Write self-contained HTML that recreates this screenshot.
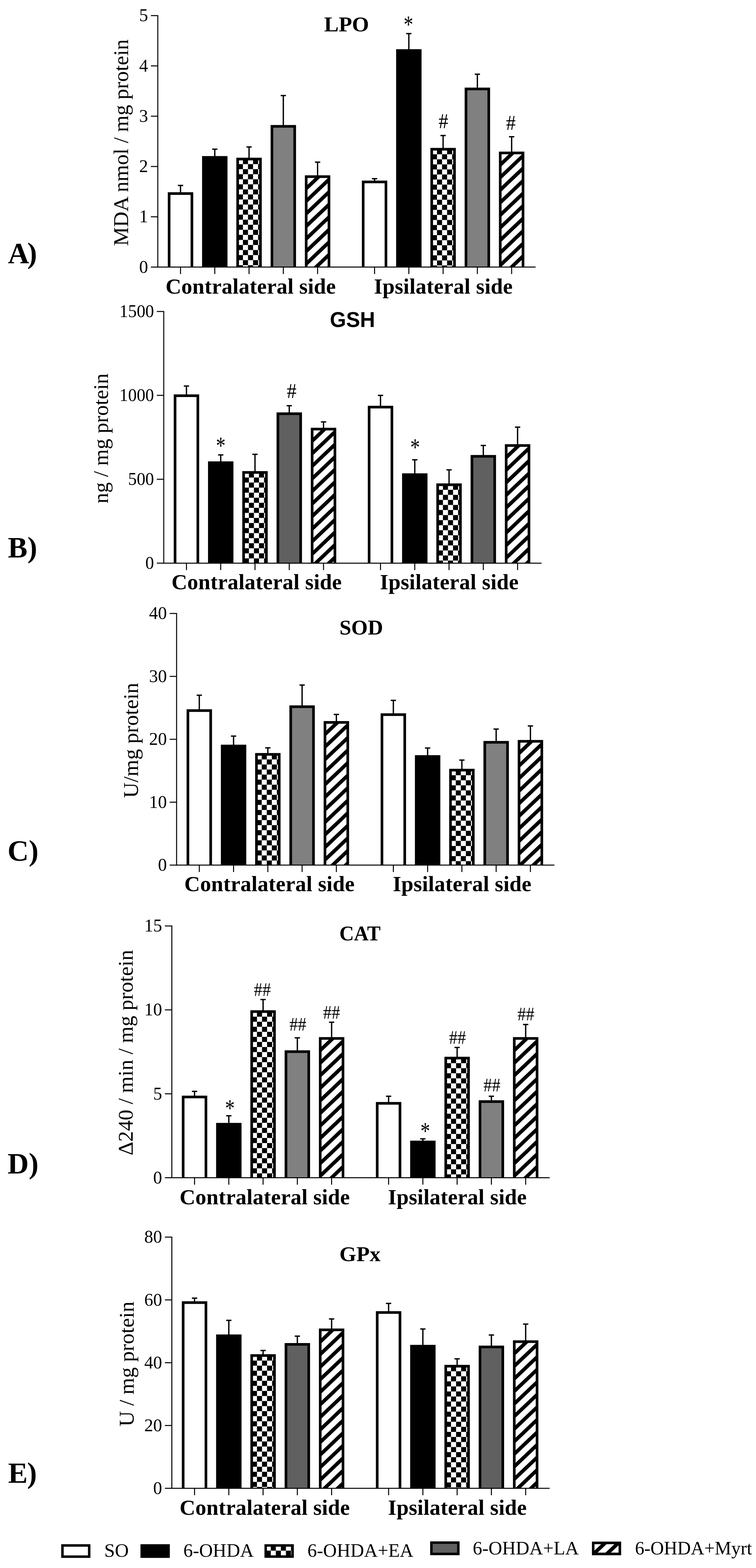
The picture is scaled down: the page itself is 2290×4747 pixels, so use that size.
<!DOCTYPE html><html><head><meta charset="utf-8"><title>Figure</title><style>html,body{margin:0;padding:0;background:#fff;}svg{display:block;}</style></head><body>
<svg width="2290" height="4747" viewBox="0 0 2290 4747">
<defs><pattern id="chkA2" patternUnits="userSpaceOnUse" width="30.6" height="30.6" x="735.9" y="496.85"><rect width="30.6" height="30.6" fill="#fff"/><rect x="15.3" y="0" width="15.3" height="15.3" fill="#000"/><rect x="0" y="15.3" width="15.3" height="15.3" fill="#000"/></pattern><clipPath id="clipA4"><rect x="927.5" y="534.7" width="69" height="273.9"/></clipPath><pattern id="chkA7" patternUnits="userSpaceOnUse" width="30.6" height="30.6" x="1323.7" y="467.05"><rect width="30.6" height="30.6" fill="#fff"/><rect x="15.3" y="0" width="15.3" height="15.3" fill="#000"/><rect x="0" y="15.3" width="15.3" height="15.3" fill="#000"/></pattern><clipPath id="clipA9"><rect x="1515.3" y="463" width="69" height="345.6"/></clipPath><pattern id="chkB2" patternUnits="userSpaceOnUse" width="30.6" height="30.6" x="753.9" y="1445.65"><rect width="30.6" height="30.6" fill="#fff"/><rect x="15.3" y="0" width="15.3" height="15.3" fill="#000"/><rect x="0" y="15.3" width="15.3" height="15.3" fill="#000"/></pattern><clipPath id="clipB4"><rect x="945.5" y="1299" width="69" height="405.9"/></clipPath><pattern id="chkB7" patternUnits="userSpaceOnUse" width="30.6" height="30.6" x="1341.7" y="1482.85"><rect width="30.6" height="30.6" fill="#fff"/><rect x="15.3" y="0" width="15.3" height="15.3" fill="#000"/><rect x="0" y="15.3" width="15.3" height="15.3" fill="#000"/></pattern><clipPath id="clipB9"><rect x="1533.3" y="1348.7" width="69" height="356.2"/></clipPath><pattern id="chkC2" patternUnits="userSpaceOnUse" width="30.6" height="30.6" x="792.8" y="2299.15"><rect width="30.6" height="30.6" fill="#fff"/><rect x="15.3" y="0" width="15.3" height="15.3" fill="#000"/><rect x="0" y="15.3" width="15.3" height="15.3" fill="#000"/></pattern><clipPath id="clipC4"><rect x="984.4" y="2186.9" width="69" height="432.1"/></clipPath><pattern id="chkC7" patternUnits="userSpaceOnUse" width="30.6" height="30.6" x="1380.6" y="2346.95"><rect width="30.6" height="30.6" fill="#fff"/><rect x="15.3" y="0" width="15.3" height="15.3" fill="#000"/><rect x="0" y="15.3" width="15.3" height="15.3" fill="#000"/></pattern><clipPath id="clipC9"><rect x="1572.2" y="2244.2" width="69" height="374.8"/></clipPath><pattern id="chkD2" patternUnits="userSpaceOnUse" width="30.6" height="30.6" x="778.4" y="3077.95"><rect width="30.6" height="30.6" fill="#fff"/><rect x="15.3" y="0" width="15.3" height="15.3" fill="#000"/><rect x="0" y="15.3" width="15.3" height="15.3" fill="#000"/></pattern><clipPath id="clipD4"><rect x="970" y="3143.8" width="69" height="421.7"/></clipPath><pattern id="chkD7" patternUnits="userSpaceOnUse" width="30.6" height="30.6" x="1366.2" y="3218.65"><rect width="30.6" height="30.6" fill="#fff"/><rect x="15.3" y="0" width="15.3" height="15.3" fill="#000"/><rect x="0" y="15.3" width="15.3" height="15.3" fill="#000"/></pattern><clipPath id="clipD9"><rect x="1557.8" y="3143.8" width="69" height="421.7"/></clipPath><pattern id="chkE2" patternUnits="userSpaceOnUse" width="30.6" height="30.6" x="778.4" y="4119.15"><rect width="30.6" height="30.6" fill="#fff"/><rect x="15.3" y="0" width="15.3" height="15.3" fill="#000"/><rect x="0" y="15.3" width="15.3" height="15.3" fill="#000"/></pattern><clipPath id="clipE4"><rect x="970" y="4026" width="69" height="479.7"/></clipPath><pattern id="chkE7" patternUnits="userSpaceOnUse" width="30.6" height="30.6" x="1366.2" y="4151.35"><rect width="30.6" height="30.6" fill="#fff"/><rect x="15.3" y="0" width="15.3" height="15.3" fill="#000"/><rect x="0" y="15.3" width="15.3" height="15.3" fill="#000"/></pattern><clipPath id="clipE9"><rect x="1557.8" y="4061.7" width="69" height="444"/></clipPath><pattern id="chkL" patternUnits="userSpaceOnUse" width="30.6" height="30.6" x="820.2" y="4694.5"><rect width="30.6" height="30.6" fill="#fff"/><rect x="15.3" y="0" width="15.3" height="15.3" fill="#000"/><rect x="0" y="15.3" width="15.3" height="15.3" fill="#000"/></pattern><clipPath id="clipL"><rect x="1796.5" y="4670.7" width="81.3" height="34"/></clipPath></defs>
<rect width="100%" height="100%" fill="#fff"/>
<line x1="546.8" y1="561.4" x2="546.8" y2="584.1" stroke="#000" stroke-width="4"/>
<line x1="538.8" y1="561.4" x2="554.8" y2="561.4" stroke="#000" stroke-width="4"/>
<rect x="512.3" y="586.1" width="69" height="222.5" fill="#fff"/>
<path d="M512.3 808.6V586.1H581.3V808.6" fill="none" stroke="#000" stroke-width="8.0"/>
<line x1="650.6" y1="451.6" x2="650.6" y2="474.5" stroke="#000" stroke-width="4"/>
<line x1="642.6" y1="451.6" x2="658.6" y2="451.6" stroke="#000" stroke-width="4"/>
<rect x="616.1" y="476.5" width="69" height="332.1" fill="#000"/>
<path d="M616.1 808.6V476.5H685.1V808.6" fill="none" stroke="#000" stroke-width="8.0"/>
<line x1="754.4" y1="444.9" x2="754.4" y2="479.5" stroke="#000" stroke-width="4"/>
<line x1="746.4" y1="444.9" x2="762.4" y2="444.9" stroke="#000" stroke-width="4"/>
<rect x="719.9" y="481.5" width="69" height="327.1" fill="url(#chkA2)"/>
<path d="M719.9 808.6V481.5H788.9V808.6" fill="none" stroke="#000" stroke-width="8.0"/>
<line x1="858.2" y1="289.3" x2="858.2" y2="380.4" stroke="#000" stroke-width="4"/>
<line x1="850.2" y1="289.3" x2="866.2" y2="289.3" stroke="#000" stroke-width="4"/>
<rect x="823.7" y="382.4" width="69" height="426.2" fill="#808080"/>
<path d="M823.7 808.6V382.4H892.7V808.6" fill="none" stroke="#000" stroke-width="8.0"/>
<line x1="962" y1="490.9" x2="962" y2="532.7" stroke="#000" stroke-width="4"/>
<line x1="954" y1="490.9" x2="970" y2="490.9" stroke="#000" stroke-width="4"/>
<rect x="927.5" y="534.7" width="69" height="273.9" fill="#fff"/>
<path clip-path="url(#clipA4)" d="M917.5 542.35L1006.5 457.8M917.5 580.35L1006.5 495.8M917.5 618.35L1006.5 533.8M917.5 656.35L1006.5 571.8M917.5 694.35L1006.5 609.8M917.5 732.35L1006.5 647.8M917.5 770.35L1006.5 685.8M917.5 808.35L1006.5 723.8M917.5 846.35L1006.5 761.8M917.5 884.35L1006.5 799.8" stroke="#000" stroke-width="11.09" fill="none"/>
<path d="M927.5 808.6V534.7H996.5V808.6" fill="none" stroke="#000" stroke-width="8.0"/>
<line x1="1134.6" y1="541" x2="1134.6" y2="548.8" stroke="#000" stroke-width="4"/>
<line x1="1126.6" y1="541" x2="1142.6" y2="541" stroke="#000" stroke-width="4"/>
<rect x="1100.1" y="550.8" width="69" height="257.8" fill="#fff"/>
<path d="M1100.1 808.6V550.8H1169.1V808.6" fill="none" stroke="#000" stroke-width="8.0"/>
<line x1="1238.4" y1="101.7" x2="1238.4" y2="151" stroke="#000" stroke-width="4"/>
<line x1="1230.4" y1="101.7" x2="1246.4" y2="101.7" stroke="#000" stroke-width="4"/>
<rect x="1203.9" y="153" width="69" height="655.6" fill="#000"/>
<path d="M1203.9 808.6V153H1272.9V808.6" fill="none" stroke="#000" stroke-width="8.0"/>
<line x1="1342.2" y1="410.3" x2="1342.2" y2="449.7" stroke="#000" stroke-width="4"/>
<line x1="1334.2" y1="410.3" x2="1350.2" y2="410.3" stroke="#000" stroke-width="4"/>
<rect x="1307.7" y="451.7" width="69" height="356.9" fill="url(#chkA7)"/>
<path d="M1307.7 808.6V451.7H1376.7V808.6" fill="none" stroke="#000" stroke-width="8.0"/>
<line x1="1446" y1="224.7" x2="1446" y2="267.3" stroke="#000" stroke-width="4"/>
<line x1="1438" y1="224.7" x2="1454" y2="224.7" stroke="#000" stroke-width="4"/>
<rect x="1411.5" y="269.3" width="69" height="539.3" fill="#808080"/>
<path d="M1411.5 808.6V269.3H1480.5V808.6" fill="none" stroke="#000" stroke-width="8.0"/>
<line x1="1549.8" y1="414" x2="1549.8" y2="461" stroke="#000" stroke-width="4"/>
<line x1="1541.8" y1="414" x2="1557.8" y2="414" stroke="#000" stroke-width="4"/>
<rect x="1515.3" y="463" width="69" height="345.6" fill="#fff"/>
<path clip-path="url(#clipA9)" d="M1505.3 470.65L1594.3 386.1M1505.3 508.65L1594.3 424.1M1505.3 546.65L1594.3 462.1M1505.3 584.65L1594.3 500.1M1505.3 622.65L1594.3 538.1M1505.3 660.65L1594.3 576.1M1505.3 698.65L1594.3 614.1M1505.3 736.65L1594.3 652.1M1505.3 774.65L1594.3 690.1M1505.3 812.65L1594.3 728.1M1505.3 850.65L1594.3 766.1M1505.3 888.65L1594.3 804.1" stroke="#000" stroke-width="11.09" fill="none"/>
<path d="M1515.3 808.6V463H1584.3V808.6" fill="none" stroke="#000" stroke-width="8.0"/>
<path d="M457 47.3H478V808.6H1622.5" fill="none" stroke="#000" stroke-width="3"/>
<line x1="457" y1="808.6" x2="478" y2="808.6" stroke="#000" stroke-width="3"/>
<text x="448.5" y="825.7" font-family='"Liberation Serif", "Times New Roman", serif' font-size="54" text-anchor="end">0</text>
<line x1="457" y1="656.34" x2="478" y2="656.34" stroke="#000" stroke-width="3"/>
<text x="448.5" y="673.44" font-family='"Liberation Serif", "Times New Roman", serif' font-size="54" text-anchor="end">1</text>
<line x1="457" y1="504.08" x2="478" y2="504.08" stroke="#000" stroke-width="3"/>
<text x="448.5" y="521.18" font-family='"Liberation Serif", "Times New Roman", serif' font-size="54" text-anchor="end">2</text>
<line x1="457" y1="351.82" x2="478" y2="351.82" stroke="#000" stroke-width="3"/>
<text x="448.5" y="368.92" font-family='"Liberation Serif", "Times New Roman", serif' font-size="54" text-anchor="end">3</text>
<line x1="457" y1="199.56" x2="478" y2="199.56" stroke="#000" stroke-width="3"/>
<text x="448.5" y="216.66" font-family='"Liberation Serif", "Times New Roman", serif' font-size="54" text-anchor="end">4</text>
<text x="448.5" y="64.4" font-family='"Liberation Serif", "Times New Roman", serif' font-size="54" text-anchor="end">5</text>
<line x1="546.8" y1="808.6" x2="546.8" y2="829.6" stroke="#000" stroke-width="3"/>
<line x1="650.6" y1="808.6" x2="650.6" y2="829.6" stroke="#000" stroke-width="3"/>
<line x1="754.4" y1="808.6" x2="754.4" y2="829.6" stroke="#000" stroke-width="3"/>
<line x1="858.2" y1="808.6" x2="858.2" y2="829.6" stroke="#000" stroke-width="3"/>
<line x1="962" y1="808.6" x2="962" y2="829.6" stroke="#000" stroke-width="3"/>
<line x1="1134.6" y1="808.6" x2="1134.6" y2="829.6" stroke="#000" stroke-width="3"/>
<line x1="1238.4" y1="808.6" x2="1238.4" y2="829.6" stroke="#000" stroke-width="3"/>
<line x1="1342.2" y1="808.6" x2="1342.2" y2="829.6" stroke="#000" stroke-width="3"/>
<line x1="1446" y1="808.6" x2="1446" y2="829.6" stroke="#000" stroke-width="3"/>
<line x1="1549.8" y1="808.6" x2="1549.8" y2="829.6" stroke="#000" stroke-width="3"/>
<text x="501.4" y="888.9" font-family='"Liberation Serif", "Times New Roman", serif' font-weight="bold" font-size="66" letter-spacing="0.25">Contralateral side</text>
<text x="1132.8" y="888.9" font-family='"Liberation Serif", "Times New Roman", serif' font-weight="bold" font-size="66" letter-spacing="0.25">Ipsilateral side</text>
<text transform="translate(1049.8,95.3) scale(1.0347,1)" font-family='"Liberation Serif", "Times New Roman", serif' font-weight="bold" font-size="64" text-anchor="middle">LPO</text>
<text transform="translate(387.5,431.7) rotate(-90) scale(1.0053,1)" font-family='"Liberation Serif", "Times New Roman", serif' font-size="64" text-anchor="middle">MDA nmol / mg protein</text>
<text y="795.6" font-family='"Liberation Serif", "Times New Roman", serif' font-weight="bold" font-size="89"><tspan x="24">A</tspan><tspan x="82.5">)</tspan></text>
<text transform="translate(1237.1,64.4) scale(0.98,1.25)" x="0" y="27.55" font-family='"Liberation Serif", "Times New Roman", serif' font-size="60" text-anchor="middle">*</text>
<text transform="translate(1343.1,367.8) scale(0.98,1.05)" x="0" y="19.5" font-family='"Liberation Serif", "Times New Roman", serif' font-size="60" text-anchor="middle">#</text>
<text transform="translate(1547.5,372.9) scale(0.98,1.05)" x="0" y="19.5" font-family='"Liberation Serif", "Times New Roman", serif' font-size="60" text-anchor="middle">#</text>
<line x1="564.8" y1="1168.7" x2="564.8" y2="1195.9" stroke="#000" stroke-width="4"/>
<line x1="556.8" y1="1168.7" x2="572.8" y2="1168.7" stroke="#000" stroke-width="4"/>
<rect x="530.3" y="1197.9" width="69" height="507" fill="#fff"/>
<path d="M530.3 1704.9V1197.9H599.3V1704.9" fill="none" stroke="#000" stroke-width="8.0"/>
<line x1="668.6" y1="1377.2" x2="668.6" y2="1398.7" stroke="#000" stroke-width="4"/>
<line x1="660.6" y1="1377.2" x2="676.6" y2="1377.2" stroke="#000" stroke-width="4"/>
<rect x="634.1" y="1400.7" width="69" height="304.2" fill="#000"/>
<path d="M634.1 1704.9V1400.7H703.1V1704.9" fill="none" stroke="#000" stroke-width="8.0"/>
<line x1="772.4" y1="1375.4" x2="772.4" y2="1428.3" stroke="#000" stroke-width="4"/>
<line x1="764.4" y1="1375.4" x2="780.4" y2="1375.4" stroke="#000" stroke-width="4"/>
<rect x="737.9" y="1430.3" width="69" height="274.6" fill="url(#chkB2)"/>
<path d="M737.9 1704.9V1430.3H806.9V1704.9" fill="none" stroke="#000" stroke-width="8.0"/>
<line x1="876.2" y1="1228.2" x2="876.2" y2="1250.6" stroke="#000" stroke-width="4"/>
<line x1="868.2" y1="1228.2" x2="884.2" y2="1228.2" stroke="#000" stroke-width="4"/>
<rect x="841.7" y="1252.6" width="69" height="452.3" fill="#606060"/>
<path d="M841.7 1704.9V1252.6H910.7V1704.9" fill="none" stroke="#000" stroke-width="8.0"/>
<line x1="980" y1="1277.3" x2="980" y2="1297" stroke="#000" stroke-width="4"/>
<line x1="972" y1="1277.3" x2="988" y2="1277.3" stroke="#000" stroke-width="4"/>
<rect x="945.5" y="1299" width="69" height="405.9" fill="#fff"/>
<path clip-path="url(#clipB4)" d="M935.5 1306.65L1024.5 1222.1M935.5 1344.65L1024.5 1260.1M935.5 1382.65L1024.5 1298.1M935.5 1420.65L1024.5 1336.1M935.5 1458.65L1024.5 1374.1M935.5 1496.65L1024.5 1412.1M935.5 1534.65L1024.5 1450.1M935.5 1572.65L1024.5 1488.1M935.5 1610.65L1024.5 1526.1M935.5 1648.65L1024.5 1564.1M935.5 1686.65L1024.5 1602.1M935.5 1724.65L1024.5 1640.1M935.5 1762.65L1024.5 1678.1M935.5 1800.65L1024.5 1716.1" stroke="#000" stroke-width="11.09" fill="none"/>
<path d="M945.5 1704.9V1299H1014.5V1704.9" fill="none" stroke="#000" stroke-width="8.0"/>
<line x1="1152.6" y1="1197" x2="1152.6" y2="1230.4" stroke="#000" stroke-width="4"/>
<line x1="1144.6" y1="1197" x2="1160.6" y2="1197" stroke="#000" stroke-width="4"/>
<rect x="1118.1" y="1232.4" width="69" height="472.5" fill="#fff"/>
<path d="M1118.1 1704.9V1232.4H1187.1V1704.9" fill="none" stroke="#000" stroke-width="8.0"/>
<line x1="1256.4" y1="1392" x2="1256.4" y2="1435" stroke="#000" stroke-width="4"/>
<line x1="1248.4" y1="1392" x2="1264.4" y2="1392" stroke="#000" stroke-width="4"/>
<rect x="1221.9" y="1437" width="69" height="267.9" fill="#000"/>
<path d="M1221.9 1704.9V1437H1290.9V1704.9" fill="none" stroke="#000" stroke-width="8.0"/>
<line x1="1360.2" y1="1422.4" x2="1360.2" y2="1465.5" stroke="#000" stroke-width="4"/>
<line x1="1352.2" y1="1422.4" x2="1368.2" y2="1422.4" stroke="#000" stroke-width="4"/>
<rect x="1325.7" y="1467.5" width="69" height="237.4" fill="url(#chkB7)"/>
<path d="M1325.7 1704.9V1467.5H1394.7V1704.9" fill="none" stroke="#000" stroke-width="8.0"/>
<line x1="1464" y1="1348.6" x2="1464" y2="1379.6" stroke="#000" stroke-width="4"/>
<line x1="1456" y1="1348.6" x2="1472" y2="1348.6" stroke="#000" stroke-width="4"/>
<rect x="1429.5" y="1381.6" width="69" height="323.3" fill="#606060"/>
<path d="M1429.5 1704.9V1381.6H1498.5V1704.9" fill="none" stroke="#000" stroke-width="8.0"/>
<line x1="1567.8" y1="1293.1" x2="1567.8" y2="1346.7" stroke="#000" stroke-width="4"/>
<line x1="1559.8" y1="1293.1" x2="1575.8" y2="1293.1" stroke="#000" stroke-width="4"/>
<rect x="1533.3" y="1348.7" width="69" height="356.2" fill="#fff"/>
<path clip-path="url(#clipB9)" d="M1523.3 1356.35L1612.3 1271.8M1523.3 1394.35L1612.3 1309.8M1523.3 1432.35L1612.3 1347.8M1523.3 1470.35L1612.3 1385.8M1523.3 1508.35L1612.3 1423.8M1523.3 1546.35L1612.3 1461.8M1523.3 1584.35L1612.3 1499.8M1523.3 1622.35L1612.3 1537.8M1523.3 1660.35L1612.3 1575.8M1523.3 1698.35L1612.3 1613.8M1523.3 1736.35L1612.3 1651.8M1523.3 1774.35L1612.3 1689.8" stroke="#000" stroke-width="11.09" fill="none"/>
<path d="M1533.3 1704.9V1348.7H1602.3V1704.9" fill="none" stroke="#000" stroke-width="8.0"/>
<path d="M475 942.9H496V1704.9H1640.5" fill="none" stroke="#000" stroke-width="3"/>
<line x1="475" y1="1704.9" x2="496" y2="1704.9" stroke="#000" stroke-width="3"/>
<text transform="translate(466.5,1722) scale(0.97,1)" font-family='"Liberation Serif", "Times New Roman", serif' font-size="54" text-anchor="end">0</text>
<line x1="475" y1="1450.9" x2="496" y2="1450.9" stroke="#000" stroke-width="3"/>
<text transform="translate(466.5,1468) scale(0.97,1)" font-family='"Liberation Serif", "Times New Roman", serif' font-size="54" text-anchor="end">500</text>
<line x1="475" y1="1196.9" x2="496" y2="1196.9" stroke="#000" stroke-width="3"/>
<text transform="translate(466.5,1214) scale(0.97,1)" font-family='"Liberation Serif", "Times New Roman", serif' font-size="54" text-anchor="end">1000</text>
<text transform="translate(466.5,960) scale(0.97,1)" font-family='"Liberation Serif", "Times New Roman", serif' font-size="54" text-anchor="end">1500</text>
<line x1="564.8" y1="1704.9" x2="564.8" y2="1725.9" stroke="#000" stroke-width="3"/>
<line x1="668.6" y1="1704.9" x2="668.6" y2="1725.9" stroke="#000" stroke-width="3"/>
<line x1="772.4" y1="1704.9" x2="772.4" y2="1725.9" stroke="#000" stroke-width="3"/>
<line x1="876.2" y1="1704.9" x2="876.2" y2="1725.9" stroke="#000" stroke-width="3"/>
<line x1="980" y1="1704.9" x2="980" y2="1725.9" stroke="#000" stroke-width="3"/>
<line x1="1152.6" y1="1704.9" x2="1152.6" y2="1725.9" stroke="#000" stroke-width="3"/>
<line x1="1256.4" y1="1704.9" x2="1256.4" y2="1725.9" stroke="#000" stroke-width="3"/>
<line x1="1360.2" y1="1704.9" x2="1360.2" y2="1725.9" stroke="#000" stroke-width="3"/>
<line x1="1464" y1="1704.9" x2="1464" y2="1725.9" stroke="#000" stroke-width="3"/>
<line x1="1567.8" y1="1704.9" x2="1567.8" y2="1725.9" stroke="#000" stroke-width="3"/>
<text x="519.4" y="1783.7" font-family='"Liberation Serif", "Times New Roman", serif' font-weight="bold" font-size="66" letter-spacing="0.25">Contralateral side</text>
<text x="1150.8" y="1783.7" font-family='"Liberation Serif", "Times New Roman", serif' font-weight="bold" font-size="66" letter-spacing="0.25">Ipsilateral side</text>
<text transform="translate(1067.8,990.4) scale(0.9871,1)" font-family='"Liberation Sans", Arial, sans-serif' font-weight="bold" font-size="64" text-anchor="middle">GSH</text>
<text transform="translate(327.1,1327.3) rotate(-90) scale(1.0023,1)" font-family='"Liberation Serif", "Times New Roman", serif' font-size="64" text-anchor="middle">ng / mg protein</text>
<text y="1687" font-family='"Liberation Serif", "Times New Roman", serif' font-weight="bold" font-size="89"><tspan x="23.8">B</tspan><tspan x="82.9">)</tspan></text>
<text transform="translate(668.75,1340.05) scale(0.98,1.25)" x="0" y="27.55" font-family='"Liberation Serif", "Times New Roman", serif' font-size="60" text-anchor="middle">*</text>
<text transform="translate(883.5,1185) scale(0.98,1.05)" x="0" y="19.5" font-family='"Liberation Serif", "Times New Roman", serif' font-size="60" text-anchor="middle">#</text>
<text transform="translate(1257.4,1344.5) scale(0.98,1.25)" x="0" y="27.55" font-family='"Liberation Serif", "Times New Roman", serif' font-size="60" text-anchor="middle">*</text>
<line x1="603.7" y1="2104.7" x2="603.7" y2="2149.3" stroke="#000" stroke-width="4"/>
<line x1="595.7" y1="2104.7" x2="611.7" y2="2104.7" stroke="#000" stroke-width="4"/>
<rect x="569.2" y="2151.3" width="69" height="467.7" fill="#fff"/>
<path d="M569.2 2619V2151.3H638.2V2619" fill="none" stroke="#000" stroke-width="8.0"/>
<line x1="707.5" y1="2228.5" x2="707.5" y2="2256.6" stroke="#000" stroke-width="4"/>
<line x1="699.5" y1="2228.5" x2="715.5" y2="2228.5" stroke="#000" stroke-width="4"/>
<rect x="673" y="2258.6" width="69" height="360.4" fill="#000"/>
<path d="M673 2619V2258.6H742V2619" fill="none" stroke="#000" stroke-width="8.0"/>
<line x1="811.3" y1="2264.1" x2="811.3" y2="2281.8" stroke="#000" stroke-width="4"/>
<line x1="803.3" y1="2264.1" x2="819.3" y2="2264.1" stroke="#000" stroke-width="4"/>
<rect x="776.8" y="2283.8" width="69" height="335.2" fill="url(#chkC2)"/>
<path d="M776.8 2619V2283.8H845.8V2619" fill="none" stroke="#000" stroke-width="8.0"/>
<line x1="915.1" y1="2073.9" x2="915.1" y2="2137.6" stroke="#000" stroke-width="4"/>
<line x1="907.1" y1="2073.9" x2="923.1" y2="2073.9" stroke="#000" stroke-width="4"/>
<rect x="880.6" y="2139.6" width="69" height="479.4" fill="#808080"/>
<path d="M880.6 2619V2139.6H949.6V2619" fill="none" stroke="#000" stroke-width="8.0"/>
<line x1="1018.9" y1="2162.9" x2="1018.9" y2="2184.9" stroke="#000" stroke-width="4"/>
<line x1="1010.9" y1="2162.9" x2="1026.9" y2="2162.9" stroke="#000" stroke-width="4"/>
<rect x="984.4" y="2186.9" width="69" height="432.1" fill="#fff"/>
<path clip-path="url(#clipC4)" d="M974.4 2194.55L1063.4 2110M974.4 2232.55L1063.4 2148M974.4 2270.55L1063.4 2186M974.4 2308.55L1063.4 2224M974.4 2346.55L1063.4 2262M974.4 2384.55L1063.4 2300M974.4 2422.55L1063.4 2338M974.4 2460.55L1063.4 2376M974.4 2498.55L1063.4 2414M974.4 2536.55L1063.4 2452M974.4 2574.55L1063.4 2490M974.4 2612.55L1063.4 2528M974.4 2650.55L1063.4 2566M974.4 2688.55L1063.4 2604" stroke="#000" stroke-width="11.09" fill="none"/>
<path d="M984.4 2619V2186.9H1053.4V2619" fill="none" stroke="#000" stroke-width="8.0"/>
<line x1="1191.5" y1="2120.3" x2="1191.5" y2="2161.4" stroke="#000" stroke-width="4"/>
<line x1="1183.5" y1="2120.3" x2="1199.5" y2="2120.3" stroke="#000" stroke-width="4"/>
<rect x="1157" y="2163.4" width="69" height="455.6" fill="#fff"/>
<path d="M1157 2619V2163.4H1226V2619" fill="none" stroke="#000" stroke-width="8.0"/>
<line x1="1295.3" y1="2264.6" x2="1295.3" y2="2288.3" stroke="#000" stroke-width="4"/>
<line x1="1287.3" y1="2264.6" x2="1303.3" y2="2264.6" stroke="#000" stroke-width="4"/>
<rect x="1260.8" y="2290.3" width="69" height="328.7" fill="#000"/>
<path d="M1260.8 2619V2290.3H1329.8V2619" fill="none" stroke="#000" stroke-width="8.0"/>
<line x1="1399.1" y1="2301.1" x2="1399.1" y2="2329.6" stroke="#000" stroke-width="4"/>
<line x1="1391.1" y1="2301.1" x2="1407.1" y2="2301.1" stroke="#000" stroke-width="4"/>
<rect x="1364.6" y="2331.6" width="69" height="287.4" fill="url(#chkC7)"/>
<path d="M1364.6 2619V2331.6H1433.6V2619" fill="none" stroke="#000" stroke-width="8.0"/>
<line x1="1502.9" y1="2207.2" x2="1502.9" y2="2245.3" stroke="#000" stroke-width="4"/>
<line x1="1494.9" y1="2207.2" x2="1510.9" y2="2207.2" stroke="#000" stroke-width="4"/>
<rect x="1468.4" y="2247.3" width="69" height="371.7" fill="#808080"/>
<path d="M1468.4 2619V2247.3H1537.4V2619" fill="none" stroke="#000" stroke-width="8.0"/>
<line x1="1606.7" y1="2197.7" x2="1606.7" y2="2242.2" stroke="#000" stroke-width="4"/>
<line x1="1598.7" y1="2197.7" x2="1614.7" y2="2197.7" stroke="#000" stroke-width="4"/>
<rect x="1572.2" y="2244.2" width="69" height="374.8" fill="#fff"/>
<path clip-path="url(#clipC9)" d="M1562.2 2251.85L1651.2 2167.3M1562.2 2289.85L1651.2 2205.3M1562.2 2327.85L1651.2 2243.3M1562.2 2365.85L1651.2 2281.3M1562.2 2403.85L1651.2 2319.3M1562.2 2441.85L1651.2 2357.3M1562.2 2479.85L1651.2 2395.3M1562.2 2517.85L1651.2 2433.3M1562.2 2555.85L1651.2 2471.3M1562.2 2593.85L1651.2 2509.3M1562.2 2631.85L1651.2 2547.3M1562.2 2669.85L1651.2 2585.3M1562.2 2707.85L1651.2 2623.3" stroke="#000" stroke-width="11.09" fill="none"/>
<path d="M1572.2 2619V2244.2H1641.2V2619" fill="none" stroke="#000" stroke-width="8.0"/>
<path d="M513.9 1857.3H534.9V2619H1679.4" fill="none" stroke="#000" stroke-width="3"/>
<line x1="513.9" y1="2619" x2="534.9" y2="2619" stroke="#000" stroke-width="3"/>
<text x="505.4" y="2636.1" font-family='"Liberation Serif", "Times New Roman", serif' font-size="54" text-anchor="end">0</text>
<line x1="513.9" y1="2428.57" x2="534.9" y2="2428.57" stroke="#000" stroke-width="3"/>
<text x="505.4" y="2445.67" font-family='"Liberation Serif", "Times New Roman", serif' font-size="54" text-anchor="end">10</text>
<line x1="513.9" y1="2238.15" x2="534.9" y2="2238.15" stroke="#000" stroke-width="3"/>
<text x="505.4" y="2255.25" font-family='"Liberation Serif", "Times New Roman", serif' font-size="54" text-anchor="end">20</text>
<line x1="513.9" y1="2047.72" x2="534.9" y2="2047.72" stroke="#000" stroke-width="3"/>
<text x="505.4" y="2064.82" font-family='"Liberation Serif", "Times New Roman", serif' font-size="54" text-anchor="end">30</text>
<text x="505.4" y="1874.4" font-family='"Liberation Serif", "Times New Roman", serif' font-size="54" text-anchor="end">40</text>
<line x1="603.7" y1="2619" x2="603.7" y2="2640" stroke="#000" stroke-width="3"/>
<line x1="707.5" y1="2619" x2="707.5" y2="2640" stroke="#000" stroke-width="3"/>
<line x1="811.3" y1="2619" x2="811.3" y2="2640" stroke="#000" stroke-width="3"/>
<line x1="915.1" y1="2619" x2="915.1" y2="2640" stroke="#000" stroke-width="3"/>
<line x1="1018.9" y1="2619" x2="1018.9" y2="2640" stroke="#000" stroke-width="3"/>
<line x1="1191.5" y1="2619" x2="1191.5" y2="2640" stroke="#000" stroke-width="3"/>
<line x1="1295.3" y1="2619" x2="1295.3" y2="2640" stroke="#000" stroke-width="3"/>
<line x1="1399.1" y1="2619" x2="1399.1" y2="2640" stroke="#000" stroke-width="3"/>
<line x1="1502.9" y1="2619" x2="1502.9" y2="2640" stroke="#000" stroke-width="3"/>
<line x1="1606.7" y1="2619" x2="1606.7" y2="2640" stroke="#000" stroke-width="3"/>
<text x="558.3" y="2697.9" font-family='"Liberation Serif", "Times New Roman", serif' font-weight="bold" font-size="66" letter-spacing="0.25">Contralateral side</text>
<text x="1189.7" y="2697.9" font-family='"Liberation Serif", "Times New Roman", serif' font-weight="bold" font-size="66" letter-spacing="0.25">Ipsilateral side</text>
<text transform="translate(1094.3,1920.5) scale(1.0024,1)" font-family='"Liberation Serif", "Times New Roman", serif' font-weight="bold" font-size="64" text-anchor="middle">SOD</text>
<text transform="translate(418.3,2241.4) rotate(-90) scale(1.0161,1)" font-family='"Liberation Serif", "Times New Roman", serif' font-size="64" text-anchor="middle">U/mg protein</text>
<text y="2605" font-family='"Liberation Serif", "Times New Roman", serif' font-weight="bold" font-size="89"><tspan x="22.8">C</tspan><tspan x="86.9">)</tspan></text>
<line x1="589.3" y1="3304" x2="589.3" y2="3319.1" stroke="#000" stroke-width="4"/>
<line x1="581.3" y1="3304" x2="597.3" y2="3304" stroke="#000" stroke-width="4"/>
<rect x="554.8" y="3321.1" width="69" height="244.4" fill="#fff"/>
<path d="M554.8 3565.5V3321.1H623.8V3565.5" fill="none" stroke="#000" stroke-width="8.0"/>
<line x1="693.1" y1="3377.9" x2="693.1" y2="3401.6" stroke="#000" stroke-width="4"/>
<line x1="685.1" y1="3377.9" x2="701.1" y2="3377.9" stroke="#000" stroke-width="4"/>
<rect x="658.6" y="3403.6" width="69" height="161.9" fill="#000"/>
<path d="M658.6 3565.5V3403.6H727.6V3565.5" fill="none" stroke="#000" stroke-width="8.0"/>
<line x1="796.9" y1="3026" x2="796.9" y2="3060.6" stroke="#000" stroke-width="4"/>
<line x1="788.9" y1="3026" x2="804.9" y2="3026" stroke="#000" stroke-width="4"/>
<rect x="762.4" y="3062.6" width="69" height="502.9" fill="url(#chkD2)"/>
<path d="M762.4 3565.5V3062.6H831.4V3565.5" fill="none" stroke="#000" stroke-width="8.0"/>
<line x1="900.7" y1="3142" x2="900.7" y2="3181.8" stroke="#000" stroke-width="4"/>
<line x1="892.7" y1="3142" x2="908.7" y2="3142" stroke="#000" stroke-width="4"/>
<rect x="866.2" y="3183.8" width="69" height="381.7" fill="#808080"/>
<path d="M866.2 3565.5V3183.8H935.2V3565.5" fill="none" stroke="#000" stroke-width="8.0"/>
<line x1="1004.5" y1="3094.7" x2="1004.5" y2="3141.8" stroke="#000" stroke-width="4"/>
<line x1="996.5" y1="3094.7" x2="1012.5" y2="3094.7" stroke="#000" stroke-width="4"/>
<rect x="970" y="3143.8" width="69" height="421.7" fill="#fff"/>
<path clip-path="url(#clipD4)" d="M960 3151.45L1049 3066.9M960 3189.45L1049 3104.9M960 3227.45L1049 3142.9M960 3265.45L1049 3180.9M960 3303.45L1049 3218.9M960 3341.45L1049 3256.9M960 3379.45L1049 3294.9M960 3417.45L1049 3332.9M960 3455.45L1049 3370.9M960 3493.45L1049 3408.9M960 3531.45L1049 3446.9M960 3569.45L1049 3484.9M960 3607.45L1049 3522.9M960 3645.45L1049 3560.9" stroke="#000" stroke-width="11.09" fill="none"/>
<path d="M970 3565.5V3143.8H1039V3565.5" fill="none" stroke="#000" stroke-width="8.0"/>
<line x1="1177.1" y1="3318.8" x2="1177.1" y2="3338.2" stroke="#000" stroke-width="4"/>
<line x1="1169.1" y1="3318.8" x2="1185.1" y2="3318.8" stroke="#000" stroke-width="4"/>
<rect x="1142.6" y="3340.2" width="69" height="225.3" fill="#fff"/>
<path d="M1142.6 3565.5V3340.2H1211.6V3565.5" fill="none" stroke="#000" stroke-width="8.0"/>
<line x1="1280.9" y1="3447.7" x2="1280.9" y2="3455.3" stroke="#000" stroke-width="4"/>
<line x1="1272.9" y1="3447.7" x2="1288.9" y2="3447.7" stroke="#000" stroke-width="4"/>
<rect x="1246.4" y="3457.3" width="69" height="108.2" fill="#000"/>
<path d="M1246.4 3565.5V3457.3H1315.4V3565.5" fill="none" stroke="#000" stroke-width="8.0"/>
<line x1="1384.7" y1="3171.1" x2="1384.7" y2="3201.3" stroke="#000" stroke-width="4"/>
<line x1="1376.7" y1="3171.1" x2="1392.7" y2="3171.1" stroke="#000" stroke-width="4"/>
<rect x="1350.2" y="3203.3" width="69" height="362.2" fill="url(#chkD7)"/>
<path d="M1350.2 3565.5V3203.3H1419.2V3565.5" fill="none" stroke="#000" stroke-width="8.0"/>
<line x1="1488.5" y1="3318.8" x2="1488.5" y2="3333" stroke="#000" stroke-width="4"/>
<line x1="1480.5" y1="3318.8" x2="1496.5" y2="3318.8" stroke="#000" stroke-width="4"/>
<rect x="1454" y="3335" width="69" height="230.5" fill="#808080"/>
<path d="M1454 3565.5V3335H1523V3565.5" fill="none" stroke="#000" stroke-width="8.0"/>
<line x1="1592.3" y1="3101.6" x2="1592.3" y2="3141.8" stroke="#000" stroke-width="4"/>
<line x1="1584.3" y1="3101.6" x2="1600.3" y2="3101.6" stroke="#000" stroke-width="4"/>
<rect x="1557.8" y="3143.8" width="69" height="421.7" fill="#fff"/>
<path clip-path="url(#clipD9)" d="M1547.8 3151.45L1636.8 3066.9M1547.8 3189.45L1636.8 3104.9M1547.8 3227.45L1636.8 3142.9M1547.8 3265.45L1636.8 3180.9M1547.8 3303.45L1636.8 3218.9M1547.8 3341.45L1636.8 3256.9M1547.8 3379.45L1636.8 3294.9M1547.8 3417.45L1636.8 3332.9M1547.8 3455.45L1636.8 3370.9M1547.8 3493.45L1636.8 3408.9M1547.8 3531.45L1636.8 3446.9M1547.8 3569.45L1636.8 3484.9M1547.8 3607.45L1636.8 3522.9M1547.8 3645.45L1636.8 3560.9" stroke="#000" stroke-width="11.09" fill="none"/>
<path d="M1557.8 3565.5V3143.8H1626.8V3565.5" fill="none" stroke="#000" stroke-width="8.0"/>
<path d="M499.5 2803.2H520.5V3565.5H1665" fill="none" stroke="#000" stroke-width="3"/>
<line x1="499.5" y1="3565.5" x2="520.5" y2="3565.5" stroke="#000" stroke-width="3"/>
<text x="491" y="3582.6" font-family='"Liberation Serif", "Times New Roman", serif' font-size="54" text-anchor="end">0</text>
<line x1="499.5" y1="3311.4" x2="520.5" y2="3311.4" stroke="#000" stroke-width="3"/>
<text x="491" y="3328.5" font-family='"Liberation Serif", "Times New Roman", serif' font-size="54" text-anchor="end">5</text>
<line x1="499.5" y1="3057.3" x2="520.5" y2="3057.3" stroke="#000" stroke-width="3"/>
<text x="491" y="3074.4" font-family='"Liberation Serif", "Times New Roman", serif' font-size="54" text-anchor="end">10</text>
<text x="491" y="2820.3" font-family='"Liberation Serif", "Times New Roman", serif' font-size="54" text-anchor="end">15</text>
<line x1="589.3" y1="3565.5" x2="589.3" y2="3586.5" stroke="#000" stroke-width="3"/>
<line x1="693.1" y1="3565.5" x2="693.1" y2="3586.5" stroke="#000" stroke-width="3"/>
<line x1="796.9" y1="3565.5" x2="796.9" y2="3586.5" stroke="#000" stroke-width="3"/>
<line x1="900.7" y1="3565.5" x2="900.7" y2="3586.5" stroke="#000" stroke-width="3"/>
<line x1="1004.5" y1="3565.5" x2="1004.5" y2="3586.5" stroke="#000" stroke-width="3"/>
<line x1="1177.1" y1="3565.5" x2="1177.1" y2="3586.5" stroke="#000" stroke-width="3"/>
<line x1="1280.9" y1="3565.5" x2="1280.9" y2="3586.5" stroke="#000" stroke-width="3"/>
<line x1="1384.7" y1="3565.5" x2="1384.7" y2="3586.5" stroke="#000" stroke-width="3"/>
<line x1="1488.5" y1="3565.5" x2="1488.5" y2="3586.5" stroke="#000" stroke-width="3"/>
<line x1="1592.3" y1="3565.5" x2="1592.3" y2="3586.5" stroke="#000" stroke-width="3"/>
<text x="543.9" y="3645.5" font-family='"Liberation Serif", "Times New Roman", serif' font-weight="bold" font-size="66" letter-spacing="0.25">Contralateral side</text>
<text x="1175.3" y="3645.5" font-family='"Liberation Serif", "Times New Roman", serif' font-weight="bold" font-size="66" letter-spacing="0.25">Ipsilateral side</text>
<text transform="translate(1090.5,2847.3) scale(0.9575,1)" font-family='"Liberation Serif", "Times New Roman", serif' font-weight="bold" font-size="64" text-anchor="middle">CAT</text>
<text transform="translate(402.3,3186.8) rotate(-90) scale(1.0118,1)" font-family='"Liberation Serif", "Times New Roman", serif' font-size="64" text-anchor="middle">Δ240 / min / mg protein</text>
<text y="3551.7" font-family='"Liberation Serif", "Times New Roman", serif' font-weight="bold" font-size="89"><tspan x="22.8">D</tspan><tspan x="86.9">)</tspan></text>
<text transform="translate(696.4,3346) scale(0.98,1.25)" x="0" y="27.55" font-family='"Liberation Serif", "Times New Roman", serif' font-size="60" text-anchor="middle">*</text>
<text transform="translate(794.65,2995.8) scale(0.885,1)" x="0" y="18.85" font-family='"Liberation Serif", "Times New Roman", serif' font-size="58" text-anchor="middle">##</text>
<text transform="translate(902.3,3100.75) scale(0.885,1)" x="0" y="18.85" font-family='"Liberation Serif", "Times New Roman", serif' font-size="58" text-anchor="middle">##</text>
<text transform="translate(1004.4,3065.1) scale(0.885,1)" x="0" y="18.85" font-family='"Liberation Serif", "Times New Roman", serif' font-size="58" text-anchor="middle">##</text>
<text transform="translate(1288.2,3414.7) scale(0.98,1.25)" x="0" y="27.55" font-family='"Liberation Serif", "Times New Roman", serif' font-size="60" text-anchor="middle">*</text>
<text transform="translate(1385.85,3141.35) scale(0.885,1)" x="0" y="18.85" font-family='"Liberation Serif", "Times New Roman", serif' font-size="58" text-anchor="middle">##</text>
<text transform="translate(1490.15,3285.35) scale(0.885,1)" x="0" y="18.85" font-family='"Liberation Serif", "Times New Roman", serif' font-size="58" text-anchor="middle">##</text>
<text transform="translate(1593.1,3069.85) scale(0.885,1)" x="0" y="18.85" font-family='"Liberation Serif", "Times New Roman", serif' font-size="58" text-anchor="middle">##</text>
<line x1="589.3" y1="3930" x2="589.3" y2="3941.5" stroke="#000" stroke-width="4"/>
<line x1="581.3" y1="3930" x2="597.3" y2="3930" stroke="#000" stroke-width="4"/>
<rect x="554.8" y="3943.5" width="69" height="562.2" fill="#fff"/>
<path d="M554.8 4505.7V3943.5H623.8V4505.7" fill="none" stroke="#000" stroke-width="8.0"/>
<line x1="693.1" y1="3997.3" x2="693.1" y2="4041.9" stroke="#000" stroke-width="4"/>
<line x1="685.1" y1="3997.3" x2="701.1" y2="3997.3" stroke="#000" stroke-width="4"/>
<rect x="658.6" y="4043.9" width="69" height="461.8" fill="#000"/>
<path d="M658.6 4505.7V4043.9H727.6V4505.7" fill="none" stroke="#000" stroke-width="8.0"/>
<line x1="796.9" y1="4088.5" x2="796.9" y2="4101.8" stroke="#000" stroke-width="4"/>
<line x1="788.9" y1="4088.5" x2="804.9" y2="4088.5" stroke="#000" stroke-width="4"/>
<rect x="762.4" y="4103.8" width="69" height="401.9" fill="url(#chkE2)"/>
<path d="M762.4 4505.7V4103.8H831.4V4505.7" fill="none" stroke="#000" stroke-width="8.0"/>
<line x1="900.7" y1="4045.1" x2="900.7" y2="4067.9" stroke="#000" stroke-width="4"/>
<line x1="892.7" y1="4045.1" x2="908.7" y2="4045.1" stroke="#000" stroke-width="4"/>
<rect x="866.2" y="4069.9" width="69" height="435.8" fill="#606060"/>
<path d="M866.2 4505.7V4069.9H935.2V4505.7" fill="none" stroke="#000" stroke-width="8.0"/>
<line x1="1004.5" y1="3993" x2="1004.5" y2="4024" stroke="#000" stroke-width="4"/>
<line x1="996.5" y1="3993" x2="1012.5" y2="3993" stroke="#000" stroke-width="4"/>
<rect x="970" y="4026" width="69" height="479.7" fill="#fff"/>
<path clip-path="url(#clipE4)" d="M960 4033.65L1049 3949.1M960 4071.65L1049 3987.1M960 4109.65L1049 4025.1M960 4147.65L1049 4063.1M960 4185.65L1049 4101.1M960 4223.65L1049 4139.1M960 4261.65L1049 4177.1M960 4299.65L1049 4215.1M960 4337.65L1049 4253.1M960 4375.65L1049 4291.1M960 4413.65L1049 4329.1M960 4451.65L1049 4367.1M960 4489.65L1049 4405.1M960 4527.65L1049 4443.1M960 4565.65L1049 4481.1M960 4603.65L1049 4519.1" stroke="#000" stroke-width="11.09" fill="none"/>
<path d="M970 4505.7V4026H1039V4505.7" fill="none" stroke="#000" stroke-width="8.0"/>
<line x1="1177.1" y1="3946" x2="1177.1" y2="3971.5" stroke="#000" stroke-width="4"/>
<line x1="1169.1" y1="3946" x2="1185.1" y2="3946" stroke="#000" stroke-width="4"/>
<rect x="1142.6" y="3973.5" width="69" height="532.2" fill="#fff"/>
<path d="M1142.6 4505.7V3973.5H1211.6V4505.7" fill="none" stroke="#000" stroke-width="8.0"/>
<line x1="1280.9" y1="4023.4" x2="1280.9" y2="4073.6" stroke="#000" stroke-width="4"/>
<line x1="1272.9" y1="4023.4" x2="1288.9" y2="4023.4" stroke="#000" stroke-width="4"/>
<rect x="1246.4" y="4075.6" width="69" height="430.1" fill="#000"/>
<path d="M1246.4 4505.7V4075.6H1315.4V4505.7" fill="none" stroke="#000" stroke-width="8.0"/>
<line x1="1384.7" y1="4113.7" x2="1384.7" y2="4134" stroke="#000" stroke-width="4"/>
<line x1="1376.7" y1="4113.7" x2="1392.7" y2="4113.7" stroke="#000" stroke-width="4"/>
<rect x="1350.2" y="4136" width="69" height="369.7" fill="url(#chkE7)"/>
<path d="M1350.2 4505.7V4136H1419.2V4505.7" fill="none" stroke="#000" stroke-width="8.0"/>
<line x1="1488.5" y1="4041.6" x2="1488.5" y2="4075.7" stroke="#000" stroke-width="4"/>
<line x1="1480.5" y1="4041.6" x2="1496.5" y2="4041.6" stroke="#000" stroke-width="4"/>
<rect x="1454" y="4077.7" width="69" height="428" fill="#606060"/>
<path d="M1454 4505.7V4077.7H1523V4505.7" fill="none" stroke="#000" stroke-width="8.0"/>
<line x1="1592.3" y1="4008.6" x2="1592.3" y2="4059.7" stroke="#000" stroke-width="4"/>
<line x1="1584.3" y1="4008.6" x2="1600.3" y2="4008.6" stroke="#000" stroke-width="4"/>
<rect x="1557.8" y="4061.7" width="69" height="444" fill="#fff"/>
<path clip-path="url(#clipE9)" d="M1547.8 4069.35L1636.8 3984.8M1547.8 4107.35L1636.8 4022.8M1547.8 4145.35L1636.8 4060.8M1547.8 4183.35L1636.8 4098.8M1547.8 4221.35L1636.8 4136.8M1547.8 4259.35L1636.8 4174.8M1547.8 4297.35L1636.8 4212.8M1547.8 4335.35L1636.8 4250.8M1547.8 4373.35L1636.8 4288.8M1547.8 4411.35L1636.8 4326.8M1547.8 4449.35L1636.8 4364.8M1547.8 4487.35L1636.8 4402.8M1547.8 4525.35L1636.8 4440.8M1547.8 4563.35L1636.8 4478.8M1547.8 4601.35L1636.8 4516.8" stroke="#000" stroke-width="11.09" fill="none"/>
<path d="M1557.8 4505.7V4061.7H1626.8V4505.7" fill="none" stroke="#000" stroke-width="8.0"/>
<path d="M499.5 3745.3H520.5V4505.7H1665" fill="none" stroke="#000" stroke-width="3"/>
<line x1="499.5" y1="4505.7" x2="520.5" y2="4505.7" stroke="#000" stroke-width="3"/>
<text x="491" y="4522.8" font-family='"Liberation Serif", "Times New Roman", serif' font-size="54" text-anchor="end">0</text>
<line x1="499.5" y1="4315.6" x2="520.5" y2="4315.6" stroke="#000" stroke-width="3"/>
<text x="491" y="4332.7" font-family='"Liberation Serif", "Times New Roman", serif' font-size="54" text-anchor="end">20</text>
<line x1="499.5" y1="4125.5" x2="520.5" y2="4125.5" stroke="#000" stroke-width="3"/>
<text x="491" y="4142.6" font-family='"Liberation Serif", "Times New Roman", serif' font-size="54" text-anchor="end">40</text>
<line x1="499.5" y1="3935.4" x2="520.5" y2="3935.4" stroke="#000" stroke-width="3"/>
<text x="491" y="3952.5" font-family='"Liberation Serif", "Times New Roman", serif' font-size="54" text-anchor="end">60</text>
<text x="491" y="3762.4" font-family='"Liberation Serif", "Times New Roman", serif' font-size="54" text-anchor="end">80</text>
<line x1="589.3" y1="4505.7" x2="589.3" y2="4526.7" stroke="#000" stroke-width="3"/>
<line x1="693.1" y1="4505.7" x2="693.1" y2="4526.7" stroke="#000" stroke-width="3"/>
<line x1="796.9" y1="4505.7" x2="796.9" y2="4526.7" stroke="#000" stroke-width="3"/>
<line x1="900.7" y1="4505.7" x2="900.7" y2="4526.7" stroke="#000" stroke-width="3"/>
<line x1="1004.5" y1="4505.7" x2="1004.5" y2="4526.7" stroke="#000" stroke-width="3"/>
<line x1="1177.1" y1="4505.7" x2="1177.1" y2="4526.7" stroke="#000" stroke-width="3"/>
<line x1="1280.9" y1="4505.7" x2="1280.9" y2="4526.7" stroke="#000" stroke-width="3"/>
<line x1="1384.7" y1="4505.7" x2="1384.7" y2="4526.7" stroke="#000" stroke-width="3"/>
<line x1="1488.5" y1="4505.7" x2="1488.5" y2="4526.7" stroke="#000" stroke-width="3"/>
<line x1="1592.3" y1="4505.7" x2="1592.3" y2="4526.7" stroke="#000" stroke-width="3"/>
<text x="543.9" y="4585.5" font-family='"Liberation Serif", "Times New Roman", serif' font-weight="bold" font-size="66" letter-spacing="0.25">Contralateral side</text>
<text x="1175.3" y="4585.5" font-family='"Liberation Serif", "Times New Roman", serif' font-weight="bold" font-size="66" letter-spacing="0.25">Ipsilateral side</text>
<text transform="translate(1090.4,3817.5) scale(1.0308,1)" font-family='"Liberation Serif", "Times New Roman", serif' font-weight="bold" font-size="64" text-anchor="middle">GPx</text>
<text transform="translate(405.2,4129.4) rotate(-90) scale(1.0091,1)" font-family='"Liberation Serif", "Times New Roman", serif' font-size="64" text-anchor="middle">U / mg protein</text>
<text y="4489.3" font-family='"Liberation Serif", "Times New Roman", serif' font-weight="bold" font-size="89"><tspan x="24.4">E</tspan><tspan x="82.1">)</tspan></text>
<rect x="189.15" y="4678.75" width="81" height="33.9" fill="#fff" stroke="#000" stroke-width="7.5"/>
<rect x="429.25" y="4678.75" width="81.4" height="33.9" fill="#000" stroke="#000" stroke-width="7.5"/>
<rect x="804.85" y="4678.75" width="81.4" height="33.7" fill="url(#chkL)" stroke="#000" stroke-width="7.5"/>
<rect x="1306.75" y="4670.15" width="81.6" height="34.3" fill="#606060" stroke="#000" stroke-width="7.5"/>
<rect x="1796.75" y="4670.95" width="80.8" height="33.5" fill="#fff" stroke="#000" stroke-width="7.5"/>
<path clip-path="url(#clipL)" d="M1786.5 4677.41L1887.8 4581.18M1786.5 4715.41L1887.8 4619.18M1786.5 4753.41L1887.8 4657.18M1786.5 4791.41L1887.8 4695.18" stroke="#000" stroke-width="11.09" fill="none"/>
<rect x="1796.75" y="4670.95" width="80.8" height="33.5" fill="none" stroke="#000" stroke-width="7.5"/>
<text transform="translate(352.9,4712.7) scale(1.0199,1)" font-family='"Liberation Serif", "Times New Roman", serif' font-size="57" text-anchor="middle">SO</text>
<text transform="translate(662.1,4712.7) scale(1.0048,1)" font-family='"Liberation Serif", "Times New Roman", serif' font-size="57" text-anchor="middle">6-OHDA</text>
<text transform="translate(1091.8,4712.5) scale(1.0028,1)" font-family='"Liberation Serif", "Times New Roman", serif' font-size="57" text-anchor="middle">6-OHDA+EA</text>
<text transform="translate(1592.7,4705.5) scale(1.0032,1)" font-family='"Liberation Serif", "Times New Roman", serif' font-size="57" text-anchor="middle">6-OHDA+LA</text>
<text transform="translate(2100.6,4705.5) scale(0.9896,1)" font-family='"Liberation Serif", "Times New Roman", serif' font-size="57" text-anchor="middle">6-OHDA+Myrt</text>
</svg></body></html>
